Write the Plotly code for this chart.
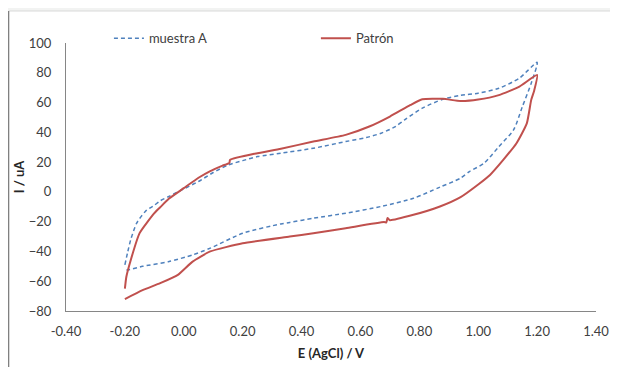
import plotly.graph_objects as go

# muestra A (blue dashed) - forward (anodic) branch then reverse branch
muestra_E = [-0.20, -0.19, -0.18, -0.16, -0.13, -0.10, -0.08, -0.05, 0.00, 0.05, 0.10, 0.15, 0.20, 0.25,
             0.33, 0.44, 0.55, 0.62, 0.67, 0.72, 0.75, 0.81, 0.88, 0.94, 1.00, 1.07, 1.14, 1.20,
             1.18, 1.15, 1.12, 1.07, 1.02, 0.97, 0.94, 0.87, 0.78, 0.67, 0.55, 0.44, 0.36, 0.33,
             0.20, 0.09, 0.03, -0.05, -0.14, -0.19, -0.20]
muestra_I = [-49, -40, -32, -21, -13, -9, -6, -3, 2, 7, 13, 18, 21, 23.7,
             26, 29.3, 33.8, 36.5, 39.4, 44, 48.4, 56.2, 62.2, 64.8, 66.3, 69.6, 76.4, 87,
             73, 57.3, 41.6, 30.4, 19.3, 13.6, 9.2, 3.2, -4.3, -9.8, -14.3, -17.7, -20.5, -21.5,
             -27.8, -37.8, -42.3, -46.8, -50, -52.4, -52]

# Patrón (red) - forward branch then reverse branch
patron_E = [-0.20, -0.195, -0.18, -0.15, -0.10, -0.08, -0.05, 0.00, 0.05, 0.09, 0.13, 0.155, 0.157,
            0.25, 0.33, 0.44, 0.55, 0.63, 0.70, 0.77, 0.81, 0.88, 0.94, 1.00, 1.07, 1.14, 1.20,
            1.19, 1.18, 1.165, 1.13, 1.085, 1.04, 1.00, 0.94, 0.87, 0.78, 0.70, 0.692, 0.688, 0.68,
            0.55, 0.44, 0.36, 0.20, 0.09, 0.03, -0.02, -0.08, -0.14, -0.20]
patron_I = [-65, -57, -45.7, -27.7, -14.3, -10.3, -4.5, 2.5, 9.5, 14, 17.5, 19.5, 21.5,
            26, 29, 33.8, 38.3, 43.9, 50.6, 58.4, 62.2, 62.5, 61, 62, 65, 70.7, 78.5,
            68, 61.8, 46, 32.7, 21.5, 11.4, 5, -3.5, -9.8, -15.4, -19, -17.5, -20.5, -20.3,
            -24.4, -27.8, -30, -34.5, -40, -46.8, -55.7, -61.3, -66, -72]

x_ticks = [-0.40, -0.20, 0.00, 0.20, 0.40, 0.60, 0.80, 1.00, 1.20, 1.40]
y_ticks = [-80, -60, -40, -20, 0, 20, 40, 60, 80, 100]

fig = go.Figure()
fig.add_trace(go.Scatter(x=muestra_E, y=muestra_I, mode="lines", name="muestra A", showlegend=True,
                         line=dict(color="#4F81BD", width=1.5, dash="4px,3px", shape="spline", smoothing=0.7),
                         legend="legend"))
fig.add_trace(go.Scatter(x=patron_E, y=patron_I, mode="lines", name="Patrón", showlegend=True,
                         line=dict(color="#C0504D", width=2, shape="spline", smoothing=0.5),
                         legend="legend2"))

font_fam = "Lato, 'Open Sans', sans-serif"
fig.update_layout(
    width=610, height=359,
    showlegend=True,
    margin=dict(l=58, r=22, t=35, b=56, autoexpand=False),
    paper_bgcolor="#F2F3F2", plot_bgcolor="white",
    font=dict(family=font_fam, size=13, color="#404040"),
    shapes=[
        dict(type="rect", xref="paper", yref="paper", x0=-0.108, x1=1.1, y0=-0.25, y1=1.1194,
             fillcolor="white", line=dict(color="#D9D9D9", width=1), layer="below"),
        dict(type="line", xref="paper", yref="paper", x0=-0.1085, x1=-0.1085, y0=-0.25, y1=1.1194,
             line=dict(color="#808080", width=1.5), layer="below"),
    ],
    xaxis=dict(range=[-0.40, 1.40], tickvals=x_ticks, ticktext=[f"{v:.2f}" for v in x_ticks],
               showgrid=False, zeroline=False, showline=True, linecolor="#868686", linewidth=1,
               ticks="outside", ticklen=8, tickcolor="rgba(0,0,0,0)",
               tickfont=dict(size=13, color="#404040"),
               title=dict(text="<b>E (AgCl) / V</b>", font=dict(size=13, color="#262626"), standoff=11)),
    yaxis=dict(range=[-80, 100], tickvals=y_ticks, showgrid=False, zeroline=False, showline=True,
               linecolor="#868686", linewidth=1, ticks="outside", ticklen=11,
               tickcolor="rgba(0,0,0,0)", tickfont=dict(size=13, color="#404040"),
               title=dict(text="<b>I / uA</b>", font=dict(size=13, color="#262626"), standoff=1)),
    legend=dict(x=0.081, y=1.018, xanchor="left", yanchor="middle", orientation="h",
                bgcolor="rgba(0,0,0,0)", font=dict(size=13, color="#404040")),
    legend2=dict(x=0.4715, y=1.018, xanchor="left", yanchor="middle", orientation="h",
                 bgcolor="rgba(0,0,0,0)", font=dict(size=13, color="#404040")),
)

fig.write_html("out.html")
